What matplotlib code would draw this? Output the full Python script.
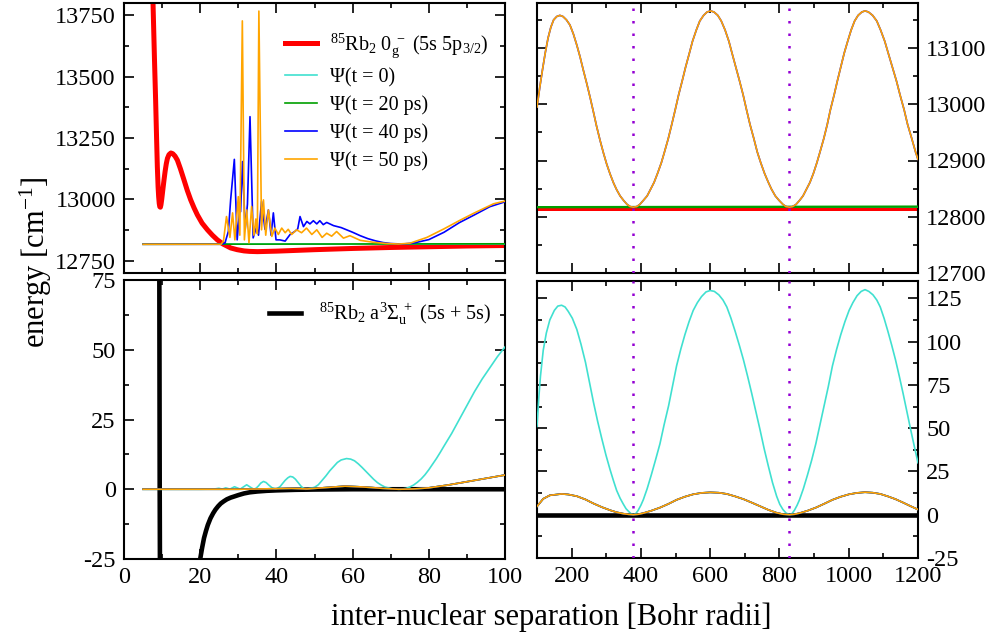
import matplotlib
matplotlib.use('Agg')
import matplotlib.pyplot as plt
from matplotlib.ticker import MultipleLocator

plt.rcParams.update({
    'font.family': ['Liberation Serif', 'DejaVu Serif'],
    'mathtext.fontset': 'custom',
    'mathtext.rm': 'Liberation Serif',
    'mathtext.it': 'Liberation Serif:italic',
    'mathtext.bf': 'Liberation Serif:bold',
    'mathtext.default': 'regular',
    'axes.unicode_minus': False,
})

# ---------------- data ----------------
# top-left: excited-state potential 0g- (cm^-1)
tl_pot_r = [7.3, 7.5, 7.7, 8.0, 8.3, 8.55, 8.75, 8.95, 9.1, 9.25, 9.4, 9.55, 9.7, 9.9, 10.2, 10.5,
            10.8, 11.1, 11.4, 11.8, 12.3, 12.8, 13.4, 14.0, 14.8, 15.75, 16.6, 17.5, 18.4, 19.25, 20.5,
            21.9, 23.2, 24.5, 26, 28, 29.7, 31.5, 33, 35, 40, 50, 60, 70, 80, 90, 100]
tl_pot_e = [14000, 13870, 13750, 13570, 13404, 13250, 13133, 13050, 13010, 12983, 12970, 12968, 12978,
            13000, 13040, 13079, 13115, 13145, 13167, 13182, 13189, 13186, 13176, 13160, 13125, 13079,
            13037, 12998, 12965, 12937, 12903, 12876, 12854, 12835, 12818, 12802, 12795, 12790, 12788,
            12787, 12789, 12795, 12800, 12804, 12807, 12810, 12812]

# top-left wavepackets (excited state)
tl_r_flat = [5, 100]
tl_psi0 = [12817, 12817]
tl_psi20 = [12817, 12819]

tl_r40 = [5, 25.5, 26.5, 27.4, 28.0, 28.96, 29.7, 30.3, 30.6, 31.1, 31.8, 32.4, 33.07, 33.9, 34.8, 35.3,
          36.1, 37.0, 37.9, 38.6, 39.2, 39.9, 40.9, 42.3, 43.6, 44.9, 45.6, 46.2, 47.1, 48.0, 48.8, 49.7,
          50.6, 51.4, 52.3, 53.2, 55, 57, 60, 62, 64, 66, 68, 70, 73, 76, 80, 84, 88, 92, 96, 100]
tl_psi40 = [12817, 12817, 12822, 12870, 13000, 13163, 12835, 12945, 12950, 13154, 12878, 12980, 13337,
            12843, 12889, 12854, 12991, 12878, 12957, 12854, 12945, 12835, 12835, 12830, 12857, 12870,
            12880, 12930, 12889, 12910, 12900, 12913, 12900, 12913, 12897, 12906, 12893, 12885, 12866,
            12852, 12840, 12831, 12824, 12820, 12818, 12822, 12836, 12866, 12905, 12937, 12970, 12990]

tl_r50 = [5, 25.5, 26.1, 26.9, 27.8, 28.5, 29.1, 30.0, 30.4, 31.06, 31.6, 32.2, 32.8, 33.5, 34.1, 34.6,
          35.0, 35.4, 36.1, 36.6, 37.2, 37.9, 38.8, 39.6, 40.5, 41.4, 42.3, 43.1, 44.0, 45.3, 46.6, 47.9,
          49.3, 50.6, 52.0, 53.2, 54.5, 55.8, 57.6, 59.3, 62, 65.5, 69, 72, 75, 79.5, 84, 88.2, 92, 97, 100]
tl_psi50 = [12817, 12817, 12830, 12930, 12845, 12945, 12835, 13011, 12854, 13727, 12835, 12957, 12823,
            12971, 12854, 12920, 12860, 13767, 12876, 12998, 12854, 12957, 12849, 12883, 12857, 12883,
            12864, 12878, 12857, 12876, 12864, 12883, 12857, 12876, 12845, 12862, 12850, 12869, 12842,
            12852, 12833, 12825, 12820, 12818, 12821, 12845, 12880, 12915, 12945, 12982, 12993]

# top-right (long range, excited state)
tr_r_flat = [100, 1200]
tr_pot = [12815, 12815]
tr_psi0 = [12817, 12817]
tr_psi20 = [12817, 12818]
tr_r = [100, 108, 116, 124, 132, 140, 148, 157, 166, 175, 185, 195, 205, 215, 224, 234, 244, 253, 263,
        272, 282, 292, 301, 311, 321, 330, 340, 350, 360, 369, 378, 388, 397, 407, 418, 428, 438, 448,
        459, 468, 479, 489, 499, 509, 519, 529, 540, 549, 560, 570, 581, 591, 601, 611, 622, 632, 643,
        654, 663, 674, 685, 695, 705, 715, 726, 736, 746, 757, 768, 777, 788, 799, 810, 819, 829, 838,
        848, 858, 868, 878, 888, 898, 908, 917, 928, 938, 947, 958, 967, 977, 987, 997, 1007, 1017,
        1027, 1038, 1047, 1057, 1069, 1081, 1092, 1104, 1114, 1126, 1138, 1148, 1160, 1170, 1182,
        1193, 1200]
tr_psi = [12995, 13030, 13062, 13092, 13118, 13137, 13150, 13156, 13158, 13156, 13150, 13141, 13125,
          13105, 13085, 13060, 13036, 13013, 12986, 12961, 12936, 12913, 12894, 12876, 12860, 12848,
          12837, 12829, 12822, 12818, 12817, 12818, 12822, 12829, 12837, 12849, 12861, 12877, 12896,
          12915, 12939, 12964, 12990, 13017, 13041, 13066, 13091, 13112, 13132, 13148, 13158, 13164,
          13166, 13164, 13158, 13148, 13132, 13112, 13091, 13066, 13041, 13017, 12990, 12964, 12939,
          12915, 12896, 12877, 12861, 12849, 12837, 12829, 12822, 12818, 12817, 12818, 12822, 12829,
          12837, 12849, 12861, 12877, 12896, 12915, 12939, 12964, 12990, 13017, 13041, 13066, 13091,
          13112, 13132, 13148, 13158, 13164, 13166, 13164, 13158, 13148, 13132, 13112, 13091, 13066,
          13041, 13017, 12990, 12964, 12939, 12915, 12902]

# bottom-left: ground-state potential a3Sigma_u+ and wavepackets
bl_pot_r = [9.0, 9.37, 9.6, 10.5, 11.5, 13, 15, 17, 18.5, 19.5, 20, 20.5, 21, 21.5, 22, 22.7, 23.4,
            24, 24.7, 25.4, 26.2, 27, 28, 28.9, 30, 31.5, 33, 35, 37.5, 40, 45, 50, 60, 100]
bl_pot_e = [300, 0, -100, -200, -240, -220, -150, -80, -45, -31, -25, -21, -17.5, -15, -12.8, -10.4,
            -8.6, -7.3, -6.1, -5.1, -4.3, -3.6, -3.0, -2.6, -2.1, -1.5, -1.1, -0.8, -0.55, -0.4, -0.2,
            -0.1, 0, 0]

bl_r0 = [5, 20, 23, 24, 24.9, 25.8, 26.7, 27.8, 29.0, 30.5, 31.3, 32.2, 33.1, 34.1, 34.7, 35.3, 35.9,
         36.6, 37.3, 38.0, 38.8, 39.8, 40.5, 41.0, 41.7, 42.3, 43.0, 43.6, 44.3, 45.0, 45.7, 46.4, 47.0,
         47.7, 48.5, 50, 51, 52, 53, 54, 55, 56, 57, 58.4, 59.5, 60.5, 61.5, 62.5, 63.5, 64.5, 65.5,
         66.5, 67.5, 68.5, 70, 71, 72.5, 74, 75, 76, 77, 78, 79, 80, 81, 82, 83, 84, 86, 88, 90, 92,
         94, 96, 98, 100]
bl_psi0 = [0, 0, 0.05, 0.15, 0.35, 0.05, 0.5, 0.05, 0.9, 0.05, 0.8, 1.6, 0.8, 0, 0.4, 1.2, 2.2, 2.8,
           2.4, 1.5, 0.6, 0, 0.5, 1.0, 2.2, 3.2, 4.1, 4.6, 4.4, 3.6, 2.4, 1.2, 0.4, 0, 0.2, 0.7, 1.6,
           3.2, 4.8, 6.6, 8.1, 9.6, 10.5, 11.0, 10.8, 10.2, 9.1, 7.8, 6.4, 5.0, 3.6, 2.4, 1.5, 0.8,
           0.25, 0.05, 0, 0.3, 0.8, 1.5, 2.5, 3.7, 5.2, 7.0, 9.0, 11.0, 13.2, 15.5, 20, 25, 30, 35,
           39.5, 43.5, 47.5, 51]
bl_r_rest = [5, 30, 40, 44, 48, 53, 58, 63, 68, 72, 76, 80, 85, 90, 95, 100]
bl_psi_rest = [0, 0, 0.2, 0.3, 0.1, 0.6, 1.1, 0.8, 0.3, 0, 0.1, 0.5, 1.5, 2.7, 3.9, 5.1]

# bottom-right (long range, ground state)
br_r_flat = [100, 1200]
br_pot = [0, 0]
br_r0 = [100, 105, 110, 118, 127, 137, 150, 160, 171, 181, 190, 202, 215, 227, 240, 251, 263, 275, 287,
         299, 311, 321, 330, 340, 349, 357, 365, 372, 378, 385, 392, 400, 407, 418, 430, 442, 455, 467,
         480, 491, 503, 515, 527, 539, 551, 563, 575, 588, 600, 612, 625, 637, 648, 660, 672, 684, 696,
         708, 720, 732, 744, 756, 768, 780, 792, 801, 810, 819, 829, 836, 843, 851, 858, 869, 881, 893,
         905, 917, 929, 941, 953, 965, 977, 989, 1001, 1012, 1024, 1036, 1047, 1058, 1070, 1081, 1091,
         1102, 1113, 1124, 1135, 1146, 1157, 1168, 1179, 1191, 1200]
br_psi0 = [51, 67, 80, 95, 105, 112.5, 118, 120.5, 121, 120, 117.5, 113.5, 107, 98.5, 88, 77, 65, 54,
           44, 34.5, 26, 19.5, 14, 9.5, 6.2, 3.5, 1.8, 0.5, 0, 0.6, 2.5, 5.5, 8.7, 15, 23, 31.5, 41,
           52, 63, 74, 86, 95.5, 104, 111.5, 118, 122.5, 126, 128.7, 129.5, 129, 127, 124, 120, 113.5,
           106, 98, 89.5, 80, 70, 59.5, 49, 38, 28, 18.5, 10.6, 6, 3, 1, 0, 0.6, 2.5, 5.5, 8.7, 15,
           23, 31.5, 41, 52, 63, 74, 86, 95.5, 104, 111.5, 118, 122.5, 126.5, 129, 130, 129, 127, 124,
           120, 113.5, 106, 98, 89.5, 80, 70, 59.5, 49, 38, 30]
br_r_rest = [100, 118, 137, 171, 190, 215, 240, 263, 287, 311, 330, 349, 365, 378, 392, 407, 430, 455,
             480, 503, 527, 551, 575, 600, 625, 648, 672, 696, 720, 744, 768, 792, 810, 829, 843, 858,
             881, 905, 929, 953, 977, 1001, 1024, 1047, 1070, 1091, 1113, 1135, 1157, 1179, 1200]
br_psi_rest = [4.8, 9.2, 11.2, 12, 11.7, 10.7, 8.8, 6.5, 4.4, 2.6, 1.4, 0.6, 0.2, 0, 0.25, 0.9, 2.3,
               4.1, 6.3, 8.6, 10.4, 11.8, 12.6, 12.9, 12.7, 12, 10.6, 9, 7, 4.9, 2.8, 1.1, 0.3, 0, 0.25,
               0.9, 2.3, 4.1, 6.3, 8.6, 10.4, 11.8, 12.6, 13, 12.7, 12, 10.6, 9, 7, 4.9, 3]

# dotted markers (outer turning points)
marker_r = [377, 828]

labels_psi = ['Ψ(t = 0)', 'Ψ(t = 20 ps)', 'Ψ(t = 40 ps)', 'Ψ(t = 50 ps)']
label_exc = r'$^{85}$Rb$_2$ 0$_g^{\ -}$ (5s 5p$_{3/2}$)'
label_gnd = r'$^{85}$Rb$_2$ a$^3\Sigma_u^{\ +}$ (5s + 5s)'

# ---------------- style ----------------
C_RED = '#ff0000'
C_CYAN = '#40e0d0'
C_GREEN = '#00a000'
C_BLUE = '#0000ff'
C_ORANGE = '#ffa500'
C_PURPLE = '#9400d3'
LW_THIN = 1.2

fig = plt.figure(figsize=(9.99, 6.42), dpi=100)
W, H = 999, 642


def add_ax(x0, y0, x1, y1):
    return fig.add_axes([x0 / W, 1 - y1 / H, (x1 - x0) / W, (y1 - y0) / H])


ax_tl = add_ax(124, 3, 505, 273)
ax_bl = add_ax(124, 280, 505, 559)
ax_tr = add_ax(537, 3, 918, 273)
ax_br = add_ax(537, 281, 918, 558)

for ax in (ax_tl, ax_bl, ax_tr, ax_br):
    for s in ax.spines.values():
        s.set_linewidth(1.5)
    ax.tick_params(which='both', direction='in', top=True, right=True, bottom=True, left=True,
                   labelsize=17.5, width=1.2)
    ax.tick_params(which='major', length=7, pad=6)
    ax.tick_params(which='minor', length=3.8)

# top-left
ax_tl.plot(tl_pot_r, tl_pot_e, color=C_RED, lw=3.6, label=label_exc, zorder=2)
ax_tl.plot(tl_r_flat, tl_psi0, color=C_CYAN, lw=LW_THIN, label=labels_psi[0], zorder=3)
ax_tl.plot(tl_r_flat, tl_psi20, color=C_GREEN, lw=LW_THIN, label=labels_psi[1], zorder=3)
ax_tl.plot(tl_r40, tl_psi40, color=C_BLUE, lw=LW_THIN, label=labels_psi[2], zorder=3)
ax_tl.plot(tl_r50, tl_psi50, color=C_ORANGE, lw=LW_THIN, label=labels_psi[3], zorder=4)
ax_tl.set_xlim(0, 100)
ax_tl.set_ylim(12700, 13800)
ax_tl.xaxis.set_major_locator(MultipleLocator(20))
ax_tl.xaxis.set_minor_locator(MultipleLocator(10))
ax_tl.yaxis.set_major_locator(MultipleLocator(250))
ax_tl.yaxis.set_minor_locator(MultipleLocator(125))
ax_tl.set_yticks([12750, 13000, 13250, 13500, 13750])
ax_tl.tick_params(labelbottom=False)
ax_tl.legend(loc='upper left', bbox_to_anchor=(0.4226, 0.895), frameon=False, fontsize=14.5,
             handlelength=1.6, handletextpad=0.65, labelspacing=0.4, borderpad=0, borderaxespad=0)

# bottom-left
ax_bl.plot(bl_pot_r, bl_pot_e, color='black', lw=3.3, label=label_gnd, zorder=2)
ax_bl.plot(bl_r0, bl_psi0, color=C_CYAN, lw=LW_THIN, zorder=3)
ax_bl.plot(bl_r_rest, bl_psi_rest, color=C_GREEN, lw=LW_THIN, zorder=3)
ax_bl.plot(bl_r_rest, bl_psi_rest, color=C_BLUE, lw=LW_THIN, zorder=3)
ax_bl.plot(bl_r_rest, bl_psi_rest, color=C_ORANGE, lw=LW_THIN, zorder=4)
ax_bl.set_xlim(0, 100)
ax_bl.set_ylim(-25, 75)
ax_bl.xaxis.set_major_locator(MultipleLocator(20))
ax_bl.xaxis.set_minor_locator(MultipleLocator(10))
ax_bl.yaxis.set_major_locator(MultipleLocator(25))
ax_bl.yaxis.set_minor_locator(MultipleLocator(12.5))
ax_bl.legend(loc='upper left', bbox_to_anchor=(0.380, 0.925), frameon=False, fontsize=14.5,
             handlelength=1.6, handletextpad=0.9, borderpad=0, borderaxespad=0)

# top-right
ax_tr.plot(tr_r_flat, tr_pot, color=C_RED, lw=3.6, zorder=2)
ax_tr.plot(tr_r_flat, tr_psi0, color=C_CYAN, lw=LW_THIN, zorder=3)
ax_tr.plot(tr_r_flat, tr_psi20, color=C_GREEN, lw=LW_THIN * 1.4, zorder=3)
ax_tr.plot(tr_r, tr_psi, color=C_BLUE, lw=LW_THIN, zorder=3)
ax_tr.plot(tr_r, tr_psi, color=C_ORANGE, lw=LW_THIN, zorder=4)
ax_tr.set_xlim(100, 1200)
ax_tr.set_ylim(12700, 13180)
ax_tr.xaxis.set_major_locator(MultipleLocator(200))
ax_tr.xaxis.set_minor_locator(MultipleLocator(100))
ax_tr.yaxis.set_major_locator(MultipleLocator(100))
ax_tr.yaxis.set_minor_locator(MultipleLocator(50))
ax_tr.tick_params(labelbottom=False, labelleft=False, labelright=True)

# bottom-right
ax_br.plot(br_r_flat, br_pot, color='black', lw=3.3, zorder=2)
ax_br.plot(br_r0, br_psi0, color=C_CYAN, lw=LW_THIN, zorder=3)
ax_br.plot(br_r_rest, br_psi_rest, color=C_GREEN, lw=LW_THIN, zorder=3)
ax_br.plot(br_r_rest, br_psi_rest, color=C_BLUE, lw=LW_THIN, zorder=3)
ax_br.plot(br_r_rest, br_psi_rest, color=C_ORANGE, lw=LW_THIN, zorder=4)
ax_br.set_xlim(100, 1200)
ax_br.set_ylim(-25, 135)
ax_br.xaxis.set_major_locator(MultipleLocator(200))
ax_br.xaxis.set_minor_locator(MultipleLocator(100))
ax_br.yaxis.set_major_locator(MultipleLocator(25))
ax_br.yaxis.set_minor_locator(MultipleLocator(12.5))
ax_br.tick_params(labelleft=False, labelright=True)

for ax in (ax_tr, ax_br):
    for xm in marker_r:
        ax.axvline(xm, color=C_PURPLE, lw=1.8, linestyle=(0, (1, 4)), zorder=5)

fig.text(551 / W, 1 - 617 / H, 'inter-nuclear separation [Bohr radii]', ha='center', va='center',
         fontsize=22)
fig.text(36 / W, 1 - 262 / H, r'energy [cm$^{-1}$]', ha='center', va='center', rotation=90,
         fontsize=22)

fig.savefig('out.png', dpi=100)
